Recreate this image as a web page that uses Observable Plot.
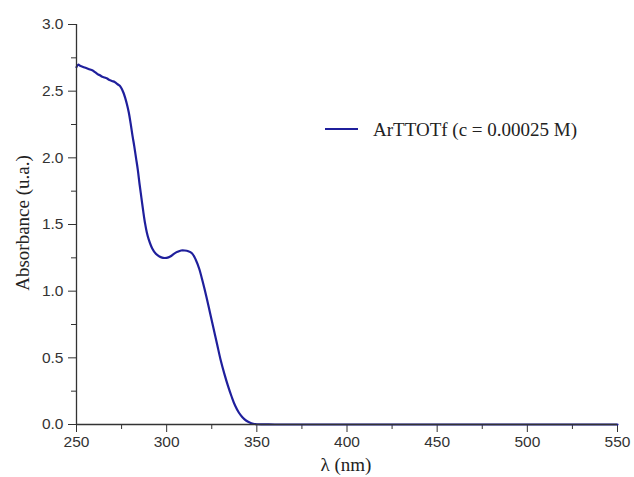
<!DOCTYPE html>
<html>
<head>
<meta charset="utf-8">
<script src="https://cdn.jsdelivr.net/npm/d3@7"></script>
<script src="https://cdn.jsdelivr.net/npm/@observablehq/plot@0.6"></script>
<style>
  html, body { margin: 0; padding: 0; background: #fff; }
  #chart { width: 634px; height: 477px; }
</style>
</head>
<body>
<div id="chart"></div>
<script>
// Data
const wavelength = [250,251,252,253,254,255,256,257,258,259,260,261,262,263,264,265,266,267,268,269,270,271,272,273,274,275,276,277,278,279,280,281,282,283,284,285,286,287,288,289,290,292,294,296,298,300,302,304,306,308,310,312,314,316,318,320,322,324,326,328,330,332,334,336,338,340,342,344,346,348,350,360,400,450,500,550];
const absorbance = [2.68,2.70,2.69,2.685,2.68,2.675,2.67,2.665,2.66,2.655,2.645,2.635,2.625,2.62,2.61,2.605,2.60,2.595,2.585,2.58,2.575,2.57,2.56,2.55,2.54,2.52,2.49,2.45,2.40,2.34,2.26,2.17,2.09,2.00,1.91,1.80,1.70,1.60,1.51,1.44,1.39,1.32,1.28,1.26,1.25,1.25,1.26,1.28,1.295,1.305,1.305,1.30,1.285,1.24,1.17,1.07,0.96,0.84,0.72,0.60,0.48,0.38,0.29,0.21,0.14,0.09,0.055,0.03,0.015,0.006,0.002,0,0,0,0,0];
const seriesName = "ArTTOTf (c = 0.00025 M)";
const xTicks = [250,300,350,400,450,500,550];
const xMinor = [275,325,375,425,475,525];
const yTicks = [0,0.5,1.0,1.5,2.0,2.5,3.0];
const yMinor = [0.25,0.75,1.25,1.75,2.25,2.75];
const xLabel = "λ (nm)";
const yLabel = "Absorbance (u.a.)";

const data = wavelength.map((w, i) => ({w, a: absorbance[i]}));
const lineColor = "#1f1f9c";
const axisColor = "#333";

const plot = Plot.plot({
  width: 634,
  height: 477,
  marginLeft: 76,
  marginRight: 17,
  marginTop: 24,
  marginBottom: 53,
  style: {fontFamily: "'Liberation Sans', Arial, sans-serif", fontSize: "15.5px", color: axisColor, background: "#fff"},
  x: {domain: [250, 550]},
  y: {domain: [0, 3]},
  marks: [
    Plot.axisX(xTicks, {tickSize: 8, tickPadding: 3, fontSize: 15.5, stroke: axisColor, fill: axisColor, label: null}),
    Plot.axisX(xMinor, {tickSize: 5, text: null, stroke: axisColor, label: null}),
    Plot.axisY(yTicks, {tickSize: 8, tickPadding: 5, fontSize: 15.5, tickFormat: d3.format(".1f"), stroke: axisColor, fill: axisColor, label: null}),
    Plot.axisY(yMinor, {tickSize: 5, text: null, stroke: axisColor, label: null}),
    Plot.line(data, {x: "w", y: "a", stroke: lineColor, strokeWidth: 2.2, curve: "catmull-rom"}),
    Plot.ruleY([0], {stroke: axisColor, strokeWidth: 1.3}),
    Plot.ruleX([250], {stroke: axisColor, strokeWidth: 1.3})
  ]
});

const svg = d3.select(plot);
svg.attr("overflow", "visible");
const serif = "'Liberation Serif', 'Times New Roman', serif";
// Axis labels
svg.append("text")
  .attr("x", 346).attr("y", 471)
  .attr("text-anchor", "middle")
  .attr("font-family", serif)
  .attr("font-size", 19)
  .attr("fill", "#222")
  .text(xLabel);
svg.append("text")
  .attr("transform", "translate(29,223) rotate(-90)")
  .attr("text-anchor", "middle")
  .attr("font-family", serif)
  .attr("font-size", 19)
  .attr("fill", "#222")
  .text(yLabel);
// Legend
const lg = svg.append("g");
lg.append("line").attr("x1", 325).attr("x2", 358).attr("y1", 129).attr("y2", 129)
  .attr("stroke", lineColor).attr("stroke-width", 2.2);
lg.append("text").attr("x", 373).attr("y", 136)
  .attr("text-anchor", "start")
  .attr("font-family", serif)
  .attr("font-size", 19)
  .attr("fill", "#222")
  .text(seriesName);

document.getElementById("chart").appendChild(plot);
</script>
</body>
</html>
